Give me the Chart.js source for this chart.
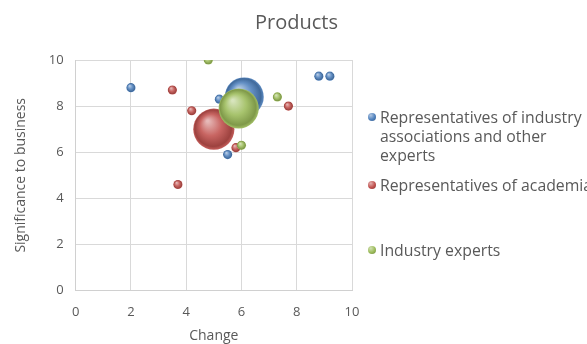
<!DOCTYPE html>
<html>
<head>
<meta charset="utf-8">
<script src="https://cdn.jsdelivr.net/npm/chart.js@4.4.1/dist/chart.umd.min.js"></script>
<style>
    html, body { margin: 0; padding: 0; background: #fff; overflow: hidden; }
    #wrap { position: relative; width: 587px; height: 344px; }
    #title { position: absolute; left: 255px; top: 6px; font-family: "Open Sans", sans-serif; font-size: 20px; line-height: 32px; color: #595959; }
    #legend { position: absolute; left: 368px; top: 0; font-family: "Open Sans", sans-serif; font-size: 15.8px; color: #595959; }
    .item { position: absolute; left: 0; white-space: nowrap; line-height: 19px; padding-left: 12px; }
    .dot { position: absolute; left: 0; top: 5.5px; width: 8px; height: 8px; border-radius: 50%; }
</style>
</head>
<body>
<div id="wrap">
    <canvas id="bubbleChart" width="587" height="344"></canvas>
    <div id="title">Products</div>
    <div id="legend"></div>
</div>
<script>
// Products bubble chart

const seriesNames = [
    ['Representatives of industry', 'associations and other', 'experts'],
    ['Representatives of academia'],
    ['Industry experts']
];
const seriesColors = ['#4f81bd', '#c0504d', '#9bbb59'];

// change (x), significance (y), bubble size
const industryAssocX = [2.0, 8.8, 9.2, 6.1, 5.2, 5.5];
const industryAssocY = [8.8, 9.3, 9.3, 8.4, 8.3, 5.9];
const industryAssocSize = [1, 1, 1, 18, 1, 1];

const academiaX = [3.5, 4.2, 5.0, 5.8, 3.7, 7.7];
const academiaY = [8.7, 7.8, 7.0, 6.2, 4.6, 8.0];
const academiaSize = [1, 1, 20, 1, 1, 1];

const expertsX = [4.8, 5.9, 7.3, 6.0];
const expertsY = [10.0, 7.9, 8.4, 6.3];
const expertsSize = [1, 19, 1, 1];

const xTicks = [0, 2, 4, 6, 8, 10];
const yTicks = [0, 2, 4, 6, 8, 10];

const bubbleScale = 4.6;

function toPoints(xs, ys, sizes) {
    return xs.map((x, i) => ({ x: x, y: ys[i], r: bubbleScale * Math.sqrt(sizes[i]) }));
}

function shade(hex, amt) {
    const n = parseInt(hex.slice(1), 16);
    let r = (n >> 16) & 255, g = (n >> 8) & 255, b = n & 255;
    if (amt > 0) {
        r = Math.round(r + (255 - r) * amt); g = Math.round(g + (255 - g) * amt); b = Math.round(b + (255 - b) * amt);
    } else {
        r = Math.round(r * (1 + amt)); g = Math.round(g * (1 + amt)); b = Math.round(b * (1 + amt));
    }
    return 'rgb(' + r + ',' + g + ',' + b + ')';
}

// 3D sphere look like the Excel bubbles
function sphereFill(color) {
    return function(context) {
        const chart = context.chart;
        if (context.type !== 'data' || !chart.chartArea) return color;
        const raw = context.raw;
        const cx = chart.scales.x.getPixelForValue(raw.x);
        const cy = chart.scales.y.getPixelForValue(raw.y);
        const r = raw.r;
        const g = chart.ctx.createRadialGradient(cx - r * 0.3, cy - r * 0.4, r * 0.05, cx, cy, r);
        g.addColorStop(0, shade(color, 0.6));
        g.addColorStop(0.5, shade(color, 0.12));
        g.addColorStop(0.88, shade(color, -0.18));
        g.addColorStop(1, shade(color, 0.08));
        return g;
    };
}

const datasetsData = [
    toPoints(industryAssocX, industryAssocY, industryAssocSize),
    toPoints(academiaX, academiaY, academiaSize),
    toPoints(expertsX, expertsY, expertsSize)
];

// Legend
const legendTops = [107.5, 175.5, 240.5];
const legend = document.getElementById('legend');
seriesNames.forEach((lines, i) => {
    const item = document.createElement('div');
    item.className = 'item';
    item.style.top = legendTops[i] + 'px';
    item.innerHTML = '<span class="dot" style="background: radial-gradient(circle at 35% 30%, ' +
        shade(seriesColors[i], 0.55) + ', ' + seriesColors[i] + ' 55%, ' + shade(seriesColors[i], -0.3) + ')"></span>' +
        lines.join('<br>');
    legend.appendChild(item);
});

const textColor = '#595959';
const fontFamily = '"Open Sans", sans-serif';

new Chart(document.getElementById('bubbleChart'), {
    type: 'bubble',
    data: {
        datasets: datasetsData.map((pts, i) => ({
            label: seriesNames[i].join(' '),
            data: pts,
            order: 2 - i,
            backgroundColor: sphereFill(seriesColors[i]),
            borderWidth: 0,
            hoverBorderWidth: 0
        }))
    },
    options: {
        responsive: false,
        animation: false,
        layout: { padding: { top: 60, right: 235, bottom: 0, left: 3 } },
        plugins: {
            legend: { display: false },
            tooltip: { enabled: false },
            title: { display: false }
        },
        scales: {
            x: {
                type: 'linear',
                min: 0,
                max: 10,
                afterBuildTicks: axis => { axis.ticks = xTicks.map(v => ({ value: v })); },
                grid: { color: '#d9d9d9', lineWidth: 1, drawTicks: false },
                border: { color: '#d0d0d0' },
                ticks: { color: textColor, font: { family: fontFamily, size: 13 }, padding: 14 },
                title: { display: true, text: 'Change', color: textColor, font: { family: fontFamily, size: 14 }, padding: { top: -7, bottom: 0 } }
            },
            y: {
                type: 'linear',
                min: 0,
                max: 10,
                afterBuildTicks: axis => { axis.ticks = yTicks.map(v => ({ value: v })); },
                grid: { color: '#d9d9d9', lineWidth: 1, drawTicks: false },
                border: { color: '#d0d0d0' },
                ticks: { color: textColor, font: { family: fontFamily, size: 13 }, padding: 12 },
                title: { display: true, text: 'Significance to business', color: textColor, font: { family: fontFamily, size: 14 }, padding: { top: 10, bottom: 7 } }
            }
        }
    }
});
</script>
</body>
</html>
